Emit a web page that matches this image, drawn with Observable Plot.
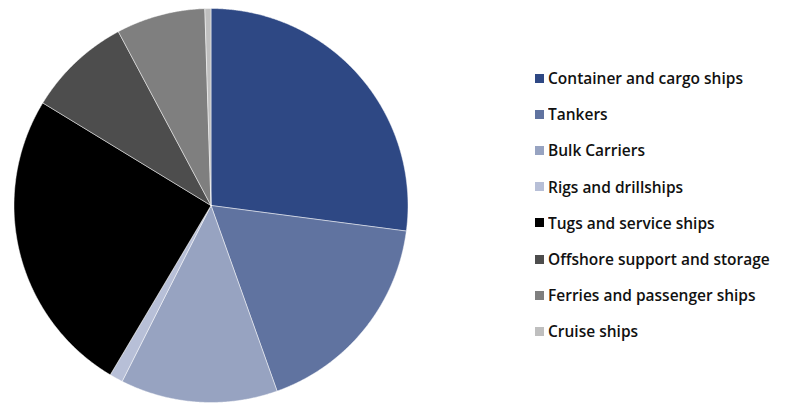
<!DOCTYPE html>
<html>
<head>
<meta charset="utf-8">
<script src="https://cdn.jsdelivr.net/npm/d3@7"></script>
<script src="https://cdn.jsdelivr.net/npm/@observablehq/plot@0.6"></script>
<style>
  html, body { margin: 0; padding: 0; background: #fff; }
  #wrap { position: relative; width: 787px; height: 403px; }
  #legend { position: absolute; left: 535px; top: 60px; }
  #legend .lg-swatch { height: 36.2px; padding: 0 !important; display: flex; align-items: center; font: 600 15.5px "Open Sans", sans-serif; color: #111; white-space: nowrap; }
  #legend .lg-swatch svg { margin-right: 4px; }
</style>
</head>
<body>
<div id="wrap"></div>
<script>
// Data (share of total, %)
const categories = [
  "Container and cargo ships",
  "Tankers",
  "Bulk Carriers",
  "Rigs and drillships",
  "Tugs and service ships",
  "Offshore support and storage",
  "Ferries and passenger ships",
  "Cruise ships"
];
const shares = [27.1, 17.5, 12.9, 1.1, 25.2, 8.5, 7.3, 0.5];
const colors = ["#2e4884", "#6073a0", "#97a3c1", "#b7bfd7", "#000000", "#4d4d4d", "#7f7f7f", "#bfbfbf"];

// Build slice polygons from the shares
const arcs = d3.pie().sort(null).value(d => d)(shares);
const pts = [];
arcs.forEach((a, i) => {
  const cat = categories[i];
  pts.push({cat, x: 0, y: 0});
  const n = Math.max(2, Math.ceil((a.endAngle - a.startAngle) / 0.005));
  for (let k = 0; k <= n; k++) {
    const t = a.startAngle + (a.endAngle - a.startAngle) * k / n;
    pts.push({cat, x: Math.sin(t), y: Math.cos(t)});
  }
  pts.push({cat, x: 0, y: 0});
});

const cx = 210.5, cy = 205, r = 197;
const chart = Plot.plot({
  width: 787,
  height: 403,
  margin: 0,
  x: {domain: [-1, 1], range: [cx - r, cx + r], axis: null},
  y: {domain: [-1, 1], range: [cy + r, cy - r], axis: null},
  color: {domain: categories, range: colors},
  marks: [
    Plot.line(pts, {x: "x", y: "y", z: "cat", fill: "cat", stroke: "white", strokeWidth: 0.6, strokeOpacity: 0.8, curve: "linear"})
  ]
});
const wrap = document.getElementById("wrap");
wrap.appendChild(chart);

const legend = chart.legend("color", {legend: "swatches", columns: 1, swatchSize: 9, className: "lg"});
const ld = document.createElement("div");
ld.id = "legend";
ld.appendChild(legend);
wrap.appendChild(ld);
</script>
</body>
</html>
